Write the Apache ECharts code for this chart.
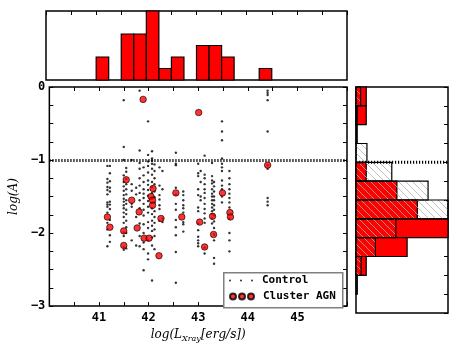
<!DOCTYPE html>
<html>
<head>
<meta charset="utf-8">
<script src="https://cdn.jsdelivr.net/npm/echarts@6/dist/echarts.min.js"></script>
<style>
  html, body { margin: 0; padding: 0; background: #fff; }
  #chart { width: 463px; height: 348px; }
</style>
</head>
<body>
<div id="chart"></div>
<script>
"use strict";

// AGN in clusters: log(Lx), log(A)
const agnX = [41.89, 43.01, 44.40, 41.55, 42.09, 42.55, 43.49, 41.66, 42.05, 42.08, 42.08, 41.81, 41.17, 41.22,
  41.50, 41.77, 42.25, 42.67, 43.03, 43.29, 43.64, 43.65, 43.31, 41.91, 42.01, 41.50, 42.21, 43.13];
const agnY = [-0.17, -0.35, -1.07, -1.27, -1.39, -1.45, -1.45, -1.55, -1.50, -1.55, -1.62, -1.71, -1.78, -1.92,
  -1.97, -1.93, -1.80, -1.78, -1.85, -1.77, -1.72, -1.78, -2.02, -2.07, -2.07, -2.17, -2.31, -2.19];

// control sample, one column per cluster luminosity
const controlColX = [41.17, 41.22, 41.50, 41.55, 41.66, 41.75, 41.82, 41.90, 41.99, 42.07, 42.12, 42.22, 42.28,
  42.55, 42.70, 43.00, 43.05, 43.13, 43.28, 43.32, 43.48, 43.63, 44.40];
const controlColY = [
  [-1.08, -1.26, -1.31, -1.37, -1.41, -1.47, -1.58, -1.61, -1.64, -1.72, -1.86, -1.95, -2.18],
  [-1.08, -1.18, -1.29, -1.38, -1.43, -1.57, -1.61, -1.67, -1.82, -2.03, -2.12],
  [-0.18, -0.82, -1.00, -1.21, -1.30, -1.36, -1.42, -1.48, -1.53, -1.57, -1.62, -1.66, -1.72, -1.78, -1.86, -1.99, -2.04, -2.19, -2.23],
  [-1.11, -1.16, -1.26, -1.33, -1.40, -1.47, -1.55, -1.60, -1.68, -1.74, -1.83, -1.92, -2.00, -2.21],
  [-1.00, -1.33, -1.42, -1.60, -1.64, -2.10],
  [-1.38, -1.47, -1.78, -2.17],
  [-0.05, -0.87, -1.04, -1.12, -1.25, -1.35, -1.45, -1.55, -1.66, -1.87, -2.04, -2.18],
  [-1.10, -1.21, -1.30, -1.40, -1.46, -1.52, -1.60, -1.68, -1.76, -1.88, -2.00, -2.13, -2.22, -2.51],
  [-0.47, -0.93, -1.02, -1.08, -1.17, -1.28, -1.34, -1.41, -1.49, -1.56, -1.64, -1.72, -1.85, -1.93, -2.10, -2.28, -2.36],
  [-0.88, -0.98, -1.01, -1.05, -1.12, -1.20, -1.30, -1.37, -1.45, -1.52, -1.59, -1.66, -1.74, -1.83, -1.90, -1.97, -2.06, -2.17, -2.65],
  [-1.06, -1.15, -1.25, -1.33, -1.43, -1.51, -1.58, -1.70, -1.78, -1.86, -1.95, -2.04, -2.22],
  [-1.10, -1.35, -1.48, -1.54, -1.62, -1.67, -1.83],
  [-1.15, -1.40, -1.80, -1.85],
  [-0.90, -1.05, -1.07, -1.38, -1.47, -1.60, -1.68, -1.82, -1.92, -2.03, -2.26, -2.68],
  [-1.43, -1.48, -1.55, -1.62, -1.66, -1.72, -1.85, -1.88, -1.98],
  [-1.05, -1.18, -1.22, -1.40, -1.48, -1.65, -1.70, -1.87, -1.96, -2.05, -2.10, -2.14, -2.18],
  [-1.15, -1.30, -1.50, -1.55],
  [-0.94, -1.20, -1.25, -1.33, -1.40, -1.45, -1.52, -1.60, -1.67, -1.73, -1.80, -1.86, -2.20, -2.28],
  [-1.04, -1.22, -1.28, -1.32, -1.40, -1.46, -1.50, -1.55, -1.60, -1.65, -1.70, -1.74, -1.80, -1.87],
  [-1.30, -1.36, -1.43, -1.50, -1.55, -1.62, -1.68, -1.76, -1.84, -1.93, -2.02, -2.10, -2.34, -2.42],
  [-0.47, -0.61, -0.73, -0.98, -1.05, -1.10, -1.15, -1.28, -1.35, -1.40, -1.50, -1.58],
  [-1.15, -1.25, -1.33, -1.40, -1.46, -1.52, -1.58, -1.65, -1.80, -2.00, -2.10, -2.25],
  [-0.05, -0.08, -0.11, -0.18, -0.61, -1.07, -1.12, -1.52, -1.57, -1.62]
];

// top histogram (AGN log Lx), bins of 0.25
const lxBinStart = [41.0, 41.5, 41.75, 42.0, 42.25, 42.5, 43.0, 43.25, 43.5, 44.25];
const lxAgnCounts = [2, 4, 4, 6, 1, 2, 3, 3, 2, 1];

// right histogram (log A), bins of 0.25 from the top
const logABinTop = [0, -0.25, -0.5, -0.75, -1, -1.25, -1.5, -1.75, -2, -2.25, -2.5];
const logAAgn = [1, 1, 0, 0, 1, 4, 6, 9, 5, 1, 0];
const logAControl = [0.45, 0.12, 0.12, 1.07, 3.5, 7.05, 9, 3.9, 1.9, 0.5, 0.13];

const binW = 0.25;
const xTickLabels = [41, 42, 43, 44, 45];
const yTickLabels = [0, -1, -2, -3];
const cutLevel = -1;

const mono = "DejaVu Sans Mono";
const chart = echarts.init(document.getElementById("chart"), null, { renderer: "canvas" });

const controlData = [];
controlColX.forEach((x, i) => controlColY[i].forEach((y) => controlData.push([x, y])));
const agnData = agnX.map((x, i) => [x, agnY[i]]);

const topBars = lxBinStart.map((x, i) => [x, x + binW, lxAgnCounts[i]]);
const rightAgnBars = logABinTop.map((y, i) => [y, y - binW, logAAgn[i]]);
const rightCtlBars = logABinTop.map((y, i) => [y, y - binW, logAControl[i]]);

// "\" hatch lines clipped to a rectangle
const hatch = (x0, y0, x1, y1, s) => {
  const out = [];
  for (let k = Math.ceil((y0 - x1) / s); k * s <= y1 - x0; k++) {
    const c = k * s;
    const xs = Math.max(x0, y0 - c);
    const xe = Math.min(x1, y1 - c);
    if (xe > xs) {
      out.push({ type: "line", shape: { x1: xs, y1: xs + c, x2: xe, y2: xe + c },
        style: { stroke: "#b0b0b0", lineWidth: 0.8 } });
    }
  }
  return out;
};

const tickStyle = { inside: true, length: 4, lineStyle: { color: "#000", width: 1 } };
const noLabel = { show: false };
const hidden = { show: false };
const noLine = { show: false, onZero: false };

const frameGrid = (g) => Object.assign({ show: true, borderColor: "#000", borderWidth: 1.5, backgroundColor: "#fff" }, g);

const option = {
  animation: false,
  grid: [
    frameGrid({ left: 46, top: 87, width: 301, height: 226 }),
    frameGrid({ left: 46, top: 11, width: 301, height: 69 }),
    frameGrid({ left: 356, top: 87, width: 92, height: 226 })
  ],
  xAxis: [
    {
      gridIndex: 0, type: "value", min: 40, max: 46, interval: 0.5,
      axisLine: noLine, splitLine: hidden, axisTick: tickStyle,
      axisLabel: {
        interval: 0, margin: 6, color: "#000", fontFamily: mono, fontWeight: "bold", fontSize: 12,
        formatter: (v) => (xTickLabels.includes(v) ? String(v) : "")
      },
      name: "{t|log(L}{s|Xray}{t|[erg/s])}", nameLocation: "middle", nameGap: 20,
      nameTextStyle: {
        rich: {
          t: { fontFamily: "DejaVu Serif", fontStyle: "italic", fontSize: 12, color: "#000" },
          s: { fontFamily: "DejaVu Serif", fontStyle: "italic", fontSize: 8, color: "#000", verticalAlign: "bottom", padding: [8, 0, 0, 0] }
        }
      }
    },
    { gridIndex: 0, type: "value", position: "top", min: 40, max: 46, interval: 0.5,
      axisLine: noLine, splitLine: hidden, axisTick: tickStyle, axisLabel: noLabel },
    { gridIndex: 1, type: "value", min: 40, max: 46, interval: 0.5,
      axisLine: noLine, splitLine: hidden, axisTick: hidden, axisLabel: noLabel },
    { gridIndex: 1, type: "value", position: "top", min: 40, max: 46, interval: 0.5,
      axisLine: noLine, splitLine: hidden, axisTick: tickStyle, axisLabel: noLabel },
    { gridIndex: 2, type: "value", min: 0, max: 9,
      axisLine: noLine, splitLine: hidden, axisTick: hidden, axisLabel: noLabel }
  ],
  yAxis: [
    {
      gridIndex: 0, type: "value", min: -3, max: 0, interval: 0.25,
      axisLine: noLine, splitLine: hidden, axisTick: tickStyle,
      axisLabel: {
        interval: 0, margin: 4, showMinLabel: true, showMaxLabel: true,
        color: "#000", fontFamily: mono, fontWeight: "bold", fontSize: 12,
        formatter: (v) => (yTickLabels.includes(v) ? String(v).replace("-", "\u2212") : "")
      },
      name: "log(A)", nameLocation: "middle", nameGap: 28, nameRotate: 90,
      nameTextStyle: { fontFamily: "DejaVu Serif", fontStyle: "italic", fontSize: 12, color: "#000" }
    },
    { gridIndex: 0, type: "value", position: "right", min: -3, max: 0, interval: 0.25,
      axisLine: noLine, splitLine: hidden, axisTick: tickStyle, axisLabel: noLabel },
    { gridIndex: 1, type: "value", min: 0, max: 6,
      axisLine: noLine, splitLine: hidden, axisTick: hidden, axisLabel: noLabel },
    { gridIndex: 2, type: "value", min: -3, max: 0, interval: 0.25, position: "right",
      axisLine: noLine, splitLine: hidden, axisTick: tickStyle, axisLabel: noLabel }
  ],
  legend: [
    {
      data: [{ name: "Control", icon: "path://M0,1a1,1 0 1,0 2,0a1,1 0 1,0 -2,0z M11,1a1,1 0 1,0 2,0a1,1 0 1,0 -2,0z M22,1a1,1 0 1,0 2,0a1,1 0 1,0 -2,0z" }],
      left: 229, top: 275, padding: 0, itemWidth: 24, itemHeight: 2.5, selectedMode: false,
      textStyle: { fontFamily: mono, fontWeight: "bold", fontSize: 11, color: "#000", padding: [0, 0, 0, 4] }
    },
    {
      data: [{ name: "Cluster AGN", icon: "path://M0,3a3,3 0 1,0 6,0a3,3 0 1,0 -6,0z M9,3a3,3 0 1,0 6,0a3,3 0 1,0 -6,0z M18,3a3,3 0 1,0 6,0a3,3 0 1,0 -6,0z" }],
      left: 229, top: 291, padding: 0, itemWidth: 24, itemHeight: 6, selectedMode: false,
      textStyle: { fontFamily: mono, fontWeight: "bold", fontSize: 11, color: "#000", padding: [0, 0, 0, 4] }
    }
  ],
  graphic: [
    { type: "rect", left: 223, top: 272, z: 3, shape: { width: 119, height: 35 },
      style: { fill: "#fff", stroke: "#808080", lineWidth: 1.5 } }
  ],
  series: [
    {
      name: "Control", type: "scatter", xAxisIndex: 0, yAxisIndex: 0,
      symbol: "circle", symbolSize: 2.4, data: controlData,
      itemStyle: { color: "#000" }, z: 2,
      markLine: {
        silent: true, symbol: "none", label: { show: false },
        lineStyle: { color: "#000", width: 3, type: [1.2, 1.8] },
        data: [{ yAxis: cutLevel }]
      }
    },
    {
      name: "Cluster AGN", type: "scatter", xAxisIndex: 0, yAxisIndex: 0,
      symbol: "circle", symbolSize: 6.5, data: agnData,
      itemStyle: { color: "#ff0000", borderColor: "#000", borderWidth: 0.8 }, z: 2
    },
    {
      name: "topHist", type: "custom", xAxisIndex: 2, yAxisIndex: 2, data: topBars,
      renderItem: (params, api) => {
        const a = api.coord([api.value(0), api.value(2)]);
        const b = api.coord([api.value(1), 0]);
        return { type: "rect", shape: { x: a[0], y: a[1], width: b[0] - a[0], height: b[1] - a[1] },
          style: { fill: "#ff0000", stroke: "#000", lineWidth: 1.2 } };
      }
    },
    {
      name: "rightAgn", type: "custom", xAxisIndex: 4, yAxisIndex: 3, data: rightAgnBars,
      renderItem: (params, api) => {
        if (api.value(2) <= 0) return null;
        const a = api.coord([0, api.value(0)]);
        const b = api.coord([api.value(2), api.value(1)]);
        return { type: "rect", shape: { x: a[0], y: a[1], width: b[0] - a[0], height: b[1] - a[1] },
          style: { fill: "#ff0000", stroke: "#000", lineWidth: 1.2 } };
      }, z: 2
    },
    {
      name: "rightControl", type: "custom", xAxisIndex: 4, yAxisIndex: 3, data: rightCtlBars, z: 3,
      renderItem: (params, api) => {
        const a = api.coord([0, api.value(0)]);
        const b = api.coord([api.value(2), api.value(1)]);
        const kids = hatch(a[0], a[1], b[0], b[1], 7);
        kids.push({ type: "rect", shape: { x: a[0], y: a[1], width: b[0] - a[0], height: b[1] - a[1] },
          style: { fill: "none", stroke: "#000", lineWidth: 1.2 } });
        return { type: "group", children: kids };
      }
    },
    {
      name: "rightCut", type: "line", xAxisIndex: 4, yAxisIndex: 3, z: 4,
      data: [[0, cutLevel], [9, cutLevel]], symbol: "none",
      lineStyle: { color: "#000", width: 3, type: [1.2, 1.8] }
    }
  ]
};

chart.setOption(option);
</script>
</body>
</html>
